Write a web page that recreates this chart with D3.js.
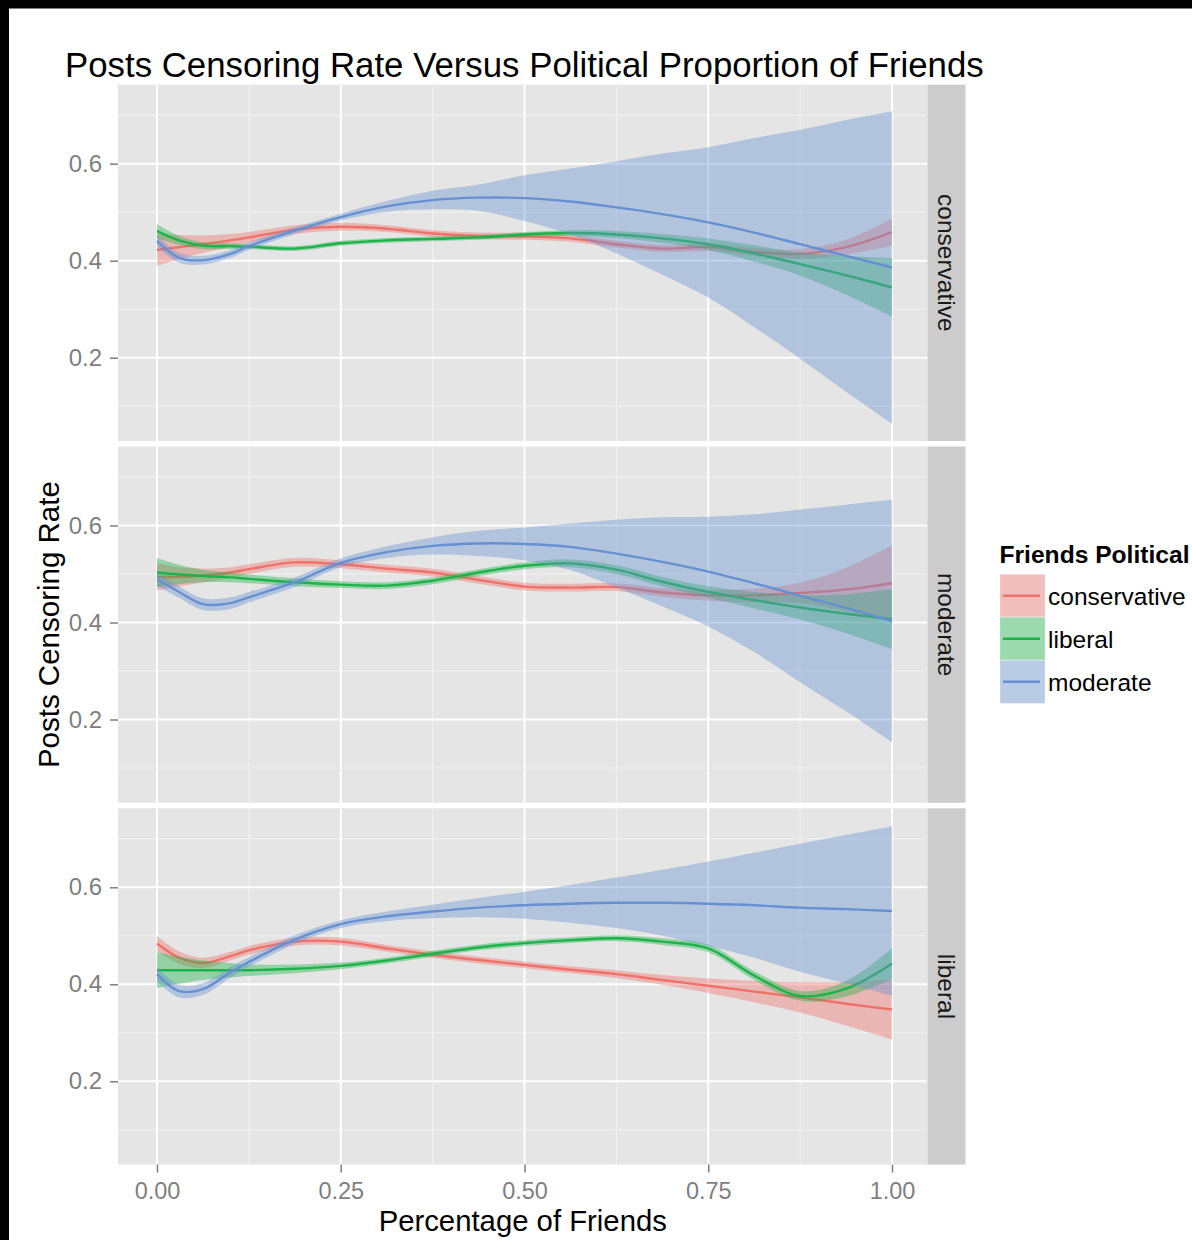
<!DOCTYPE html>
<html><head><meta charset="utf-8">
<script src="https://cdn.jsdelivr.net/npm/d3@7"></script>
<style>
body{margin:0;background:#fff;}
svg{display:block;font-family:"Liberation Sans",Arial,Helvetica,sans-serif;}
</style>
</head><body>
<svg id="c" width="1192" height="1240"></svg>
<script>
// ---------------- DATA ----------------
const chartTitle = "Posts Censoring Rate Versus Political Proportion of Friends";
const xTitle = "Percentage of Friends";
const yTitle = "Posts Censoring Rate";
const legendTitle = "Friends Political";
const panelNames = ["conservative", "moderate", "liberal"];
const seriesNames = ["conservative", "liberal", "moderate"];
const xTicks = [0, 0.25, 0.5, 0.75, 1.0];
const xMinorTicks = [0.125, 0.375, 0.625, 0.875];
const yTicks = [0.2, 0.4, 0.6];
const yMinorTicks = [0.1, 0.3, 0.5, 0.7];

const xGrid = [0, 0.03, 0.0625, 0.1, 0.125, 0.1875, 0.25, 0.3125, 0.375, 0.4375, 0.5, 0.5625, 0.625, 0.6875, 0.75, 0.8125, 0.875, 0.9375, 1.0];

// panel "conservative"
const pCons_consFit = [0.422, 0.428, 0.434, 0.442, 0.448, 0.464, 0.470, 0.466, 0.456, 0.451, 0.450, 0.446, 0.434, 0.425, 0.428, 0.418, 0.414, 0.428, 0.459];
const pCons_consSe  = [0.033, 0.025, 0.018, 0.013, 0.011, 0.009, 0.008, 0.007, 0.007, 0.007, 0.007, 0.007, 0.007, 0.007, 0.008, 0.008, 0.010, 0.015, 0.028];
const pCons_libFit  = [0.461, 0.442, 0.431, 0.430, 0.429, 0.425, 0.436, 0.442, 0.445, 0.448, 0.454, 0.457, 0.454, 0.446, 0.434, 0.415, 0.393, 0.370, 0.345];
const pCons_libSe   = [0.014, 0.009, 0.007, 0.006, 0.005, 0.005, 0.005, 0.005, 0.005, 0.005, 0.005, 0.006, 0.007, 0.009, 0.012, 0.017, 0.024, 0.040, 0.060];
const pCons_modFit  = [0.441, 0.406, 0.401, 0.414, 0.430, 0.462, 0.490, 0.512, 0.525, 0.530, 0.529, 0.522, 0.510, 0.496, 0.479, 0.458, 0.434, 0.410, 0.386];
const pCons_modSe   = [0.012, 0.010, 0.009, 0.008, 0.008, 0.007, 0.007, 0.011, 0.019, 0.027, 0.047, 0.068, 0.095, 0.125, 0.155, 0.195, 0.236, 0.280, 0.322];

// panel "moderate"
const pMod_consFit = [0.494, 0.494, 0.497, 0.503, 0.510, 0.524, 0.520, 0.511, 0.503, 0.488, 0.474, 0.472, 0.473, 0.462, 0.456, 0.456, 0.461, 0.468, 0.481];
const pMod_consSe  = [0.028, 0.020, 0.014, 0.011, 0.010, 0.009, 0.008, 0.008, 0.008, 0.008, 0.008, 0.008, 0.008, 0.009, 0.011, 0.014, 0.021, 0.045, 0.078];
const pMod_libFit  = [0.503, 0.499, 0.496, 0.493, 0.490, 0.483, 0.478, 0.476, 0.486, 0.503, 0.517, 0.522, 0.509, 0.484, 0.463, 0.446, 0.431, 0.418, 0.407];
const pMod_libSe   = [0.030, 0.020, 0.013, 0.010, 0.009, 0.008, 0.007, 0.007, 0.007, 0.007, 0.007, 0.008, 0.009, 0.010, 0.012, 0.017, 0.025, 0.040, 0.062];
const pMod_modFit  = [0.489, 0.463, 0.438, 0.440, 0.452, 0.483, 0.523, 0.545, 0.558, 0.563, 0.562, 0.556, 0.542, 0.525, 0.505, 0.481, 0.455, 0.430, 0.403];
const pMod_modSe   = [0.013, 0.012, 0.012, 0.012, 0.011, 0.010, 0.009, 0.012, 0.018, 0.026, 0.034, 0.048, 0.070, 0.092, 0.113, 0.142, 0.178, 0.213, 0.250];

// panel "liberal"
const pLib_consFit = [0.484, 0.455, 0.444, 0.458, 0.470, 0.488, 0.488, 0.474, 0.461, 0.450, 0.440, 0.430, 0.421, 0.409, 0.397, 0.385, 0.373, 0.360, 0.348];
const pLib_consSe  = [0.016, 0.013, 0.011, 0.009, 0.009, 0.008, 0.008, 0.007, 0.007, 0.007, 0.007, 0.007, 0.008, 0.010, 0.015, 0.022, 0.031, 0.045, 0.062];
const pLib_libFit  = [0.429, 0.429, 0.429, 0.429, 0.429, 0.432, 0.438, 0.449, 0.463, 0.476, 0.485, 0.491, 0.495, 0.488, 0.474, 0.418, 0.376, 0.391, 0.443];
const pLib_libSe   = [0.037, 0.028, 0.020, 0.015, 0.012, 0.009, 0.007, 0.006, 0.006, 0.006, 0.006, 0.006, 0.006, 0.007, 0.008, 0.009, 0.010, 0.016, 0.032];
const pLib_modFit  = [0.421, 0.386, 0.390, 0.425, 0.446, 0.492, 0.524, 0.540, 0.550, 0.558, 0.563, 0.566, 0.568, 0.568, 0.566, 0.563, 0.558, 0.555, 0.551];
const pLib_modSe   = [0.015, 0.013, 0.012, 0.011, 0.010, 0.009, 0.008, 0.010, 0.014, 0.020, 0.028, 0.039, 0.052, 0.068, 0.087, 0.108, 0.132, 0.153, 0.175];

const seriesColors = ["#F0706A", "#1DB34A", "#6690D2"];

// ---------------- BUILD ----------------
const panelData = [
  [[pCons_consFit, pCons_consSe], [pCons_libFit, pCons_libSe], [pCons_modFit, pCons_modSe]],
  [[pMod_consFit, pMod_consSe], [pMod_libFit, pMod_libSe], [pMod_modFit, pMod_modSe]],
  [[pLib_consFit, pLib_consSe], [pLib_libFit, pLib_libSe], [pLib_modFit, pLib_modSe]]
];

const W = 1192, H = 1240;
const svg = d3.select("#c");
svg.append("rect").attr("width", W).attr("height", H).attr("fill", "#fff");
svg.append("rect").attr("x", 0).attr("y", 0).attr("width", W).attr("height", 8.5).attr("fill", "#000");
svg.append("rect").attr("x", 0).attr("y", 0).attr("width", 9).attr("height", H).attr("fill", "#000");

const plotL = 118, plotR = 927.5, stripR = 965.5;
const panelTop0 = 84.7, panelStep = 361.8, panelH = 356.3;
const x = d3.scaleLinear().domain([0, 1]).range([157, 892]);
const yMax = 0.4 + 176 / 485, yMin = yMax - panelH / 485;

const defs = svg.append("defs");

panelNames.forEach((pname, pi) => {
  const top = panelTop0 + pi * panelStep;
  const y = d3.scaleLinear().domain([yMin, yMax]).range([top + panelH, top]);
  const g = svg.append("g");
  g.append("rect").attr("x", plotL).attr("y", top).attr("width", plotR - plotL).attr("height", panelH).attr("fill", "#E5E5E5");
  // minor grid
  yMinorTicks.forEach(v => g.append("line").attr("x1", plotL).attr("x2", plotR).attr("y1", y(v)).attr("y2", y(v)).attr("stroke", "#F2F2F2").attr("stroke-width", 1));
  xMinorTicks.forEach(v => g.append("line").attr("y1", top).attr("y2", top + panelH).attr("x1", x(v)).attr("x2", x(v)).attr("stroke", "#F2F2F2").attr("stroke-width", 1));
  // major grid
  yTicks.forEach(v => g.append("line").attr("x1", plotL).attr("x2", plotR).attr("y1", y(v)).attr("y2", y(v)).attr("stroke", "#FFFFFF").attr("stroke-width", 2));
  xTicks.forEach(v => g.append("line").attr("y1", top).attr("y2", top + panelH).attr("x1", x(v)).attr("x2", x(v)).attr("stroke", "#FFFFFF").attr("stroke-width", 2));

  defs.append("clipPath").attr("id", "clip" + pi).append("rect")
    .attr("x", plotL).attr("y", top).attr("width", plotR - plotL).attr("height", panelH);
  const dg = g.append("g").attr("clip-path", `url(#clip${pi})`);

  panelData[pi].forEach(([fit, se], si) => {
    const pts = xGrid.map((xv, i) => ({x: xv, f: fit[i], s: se[i]}));
    const area = d3.area().x(d => x(d.x)).y0(d => y(d.f - d.s)).y1(d => y(d.f + d.s)).curve(d3.curveCatmullRom.alpha(0.5));
    const line = d3.line().x(d => x(d.x)).y(d => y(d.f)).curve(d3.curveCatmullRom.alpha(0.5));
    dg.append("path").datum(pts).attr("d", area).attr("fill", seriesColors[si]).attr("fill-opacity", 0.4).attr("stroke", "none");
    dg.append("path").datum(pts).attr("d", line).attr("fill", "none").attr("stroke", seriesColors[si]).attr("stroke-width", 2.4);
  });

  // y axis
  const ya = svg.append("g").attr("transform", `translate(${plotL},0)`)
    .call(d3.axisLeft(y).tickValues(yTicks).tickSize(8).tickPadding(8).tickFormat(d3.format(".1f")));
  ya.select(".domain").remove();
  ya.selectAll(".tick line").attr("stroke", "#7F7F7F").attr("stroke-width", 1.5);
  ya.selectAll(".tick text").attr("fill", "#7F7F7F").attr("font-size", 24).attr("font-family", '"Liberation Sans",Arial,sans-serif');

  // strip
  svg.append("rect").attr("x", plotR).attr("y", top).attr("width", stripR - plotR).attr("height", panelH).attr("fill", "#CCCCCC");
  svg.append("text").attr("transform", `translate(${(plotR + stripR) / 2},${top + panelH / 2}) rotate(90)`)
    .attr("text-anchor", "middle").attr("dominant-baseline", "central").attr("font-size", 24.5).attr("fill", "#1A1A1A").text(pname);

  if (pi === panelNames.length - 1) {
    const xa = svg.append("g").attr("transform", `translate(0,${top + panelH})`)
      .call(d3.axisBottom(x).tickValues(xTicks).tickSize(8).tickPadding(10).tickFormat(d3.format(".2f")));
    xa.select(".domain").remove();
    xa.selectAll(".tick line").attr("stroke", "#7F7F7F").attr("stroke-width", 1.5);
    xa.selectAll(".tick text").attr("fill", "#7F7F7F").attr("font-size", 23.5).attr("font-family", '"Liberation Sans",Arial,sans-serif');
  }
});

// titles
svg.append("text").attr("x", 65).attr("y", 76.5).attr("font-size", 34.8).attr("fill", "#000").text(chartTitle);
svg.append("text").attr("x", (plotL + plotR) / 2).attr("y", 1230.5).attr("text-anchor", "middle").attr("font-size", 29.3).attr("fill", "#000").text(xTitle);
const midY = panelTop0 + (2 * panelStep + panelH) / 2;
svg.append("text").attr("transform", `translate(58.5,${midY}) rotate(-90)`).attr("text-anchor", "middle").attr("font-size", 29.5).attr("fill", "#000").text(yTitle);

// legend
const lg = svg.append("g");
lg.append("text").attr("x", 999.5).attr("y", 563).attr("font-size", 24.6).attr("font-weight", "bold").attr("fill", "#000").text(legendTitle);
const keyX = 1000, keyW = 45, keyH = 43, keyY0 = 574.3;
seriesNames.forEach((s, i) => {
  const ky = keyY0 + i * keyH;
  lg.append("rect").attr("x", keyX).attr("y", ky).attr("width", keyW).attr("height", keyH).attr("fill", "#F2F2F2").attr("stroke", "#FFFFFF").attr("stroke-width", 1);
  lg.append("rect").attr("x", keyX).attr("y", ky).attr("width", keyW).attr("height", keyH).attr("fill", seriesColors[i]).attr("fill-opacity", 0.4);
  lg.append("line").attr("x1", keyX + 3).attr("x2", keyX + keyW - 5).attr("y1", ky + keyH / 2).attr("y2", ky + keyH / 2).attr("stroke", seriesColors[i]).attr("stroke-width", 2.4);
  lg.append("text").attr("x", 1048).attr("y", ky + keyH / 2 + 9).attr("font-size", 24.5).attr("fill", "#000").text(s);
});
</script>
</body></html>
